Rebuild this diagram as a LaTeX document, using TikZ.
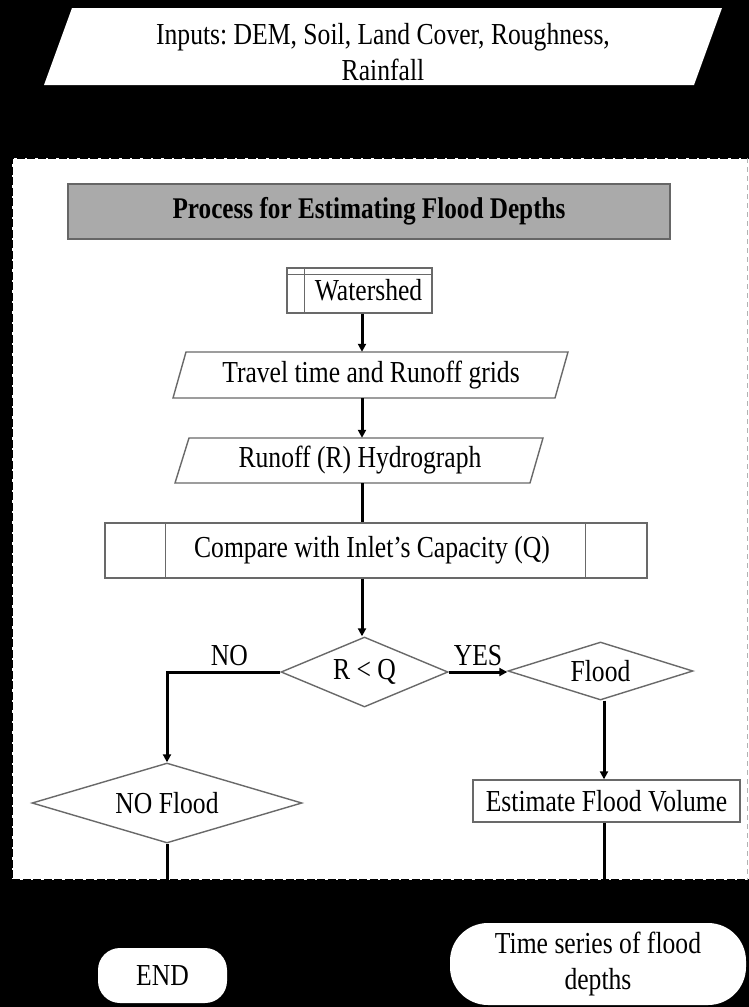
\documentclass[tikz,border=0pt]{standalone}
\usepackage{fontspec}
\setmainfont{Liberation Serif}[FakeStretch=0.84]
\usetikzlibrary{shapes.geometric,arrows.meta,calc}
\definecolor{edgegray}{RGB}{105,105,105}
\definecolor{titlegray}{RGB}{170,170,170}
\frenchspacing
\begin{document}
\begin{tikzpicture}[x=1pt,y=-1pt,
  shp/.style={draw=edgegray, line width=1.4pt},
  arr/.style={line width=3pt, -{Triangle[length=8pt,width=8pt]}},
  ln/.style={line width=3pt},
  txtfont/.style={font=\fontsize{30.5}{36}\selectfont},
  txt/.style={txtfont, inner sep=0pt, align=center},
  dia/.style={diamond, shp, fill=white, inner sep=0pt, aspect=3, txtfont},
  boxn/.style={shp, fill=white, inner sep=0pt, txtfont},
  term/.style={fill=white, inner sep=0pt, txtfont, align=center}
]
\useasboundingbox (0,0) rectangle (749,1007);
\fill[black] (0,0) rectangle (749,1007);

% input parallelogram
\fill[white] (72,8) -- (722,8) -- (694,85) -- (44,85) -- cycle;
\node[txt] (inp) at (383,52) {Inputs: DEM, Soil, Land Cover, Roughness,\\Rainfall};

% white process region
\fill[white] (12,158) rectangle (749,880);
\draw[black, line width=2.6pt, dash pattern=on 8pt off 2.5pt] (749,158) -- (12,158) -- (12,880) -- (749,880);
\draw[black!30, line width=0.8pt, dash pattern=on 5pt off 4pt] (747.5,158) -- (747.5,880);

% title
\node[draw=black!60, fill=titlegray, line width=1.3pt, minimum width=602pt, minimum height=55pt,
      inner sep=0pt, font=\fontsize{30}{36}\selectfont\bfseries] (title) at (369,211.5)
      {Process for Estimating Flood Depths};

% column coordinates
\coordinate (col) at (362,0);
\coordinate (col2) at (604,0);

% watershed (internal storage)
\node[boxn, minimum width=145pt, minimum height=45pt] (ws) at (359.5,290.5)
      {\hspace*{18pt}\raisebox{-3pt}{Watershed}};
\draw[shp] ($(ws.north west)+(0,7)$) -- ($(ws.north east)+(0,7)$);
\draw[shp] ($(ws.north west)+(18,0)$) -- ($(ws.south west)+(18,0)$);

% travel time parallelogram
\draw[shp, fill=white] (186,352) -- (568,352) -- (555,398) -- (173,398) -- cycle;
\node[txt, minimum height=46pt] (trav) at (371,375) {Travel time and Runoff grids};

% runoff parallelogram
\draw[shp, fill=white] (189,438) -- (543,438) -- (530,483) -- (175,483) -- cycle;
\node[txt, minimum height=45pt] (run) at (360,460.5) {Runoff (R) Hydrograph};

% compare (predefined process)
\node[boxn, minimum width=542pt, minimum height=55pt] (cmp) at (376,550.5)
      {\hspace*{-8pt}Compare with Inlet's Capacity (Q)};
\draw[shp] ($(cmp.north west)+(61,0)$) -- ($(cmp.south west)+(61,0)$);
\draw[shp] ($(cmp.north east)+(-62,0)$) -- ($(cmp.south east)+(-62,0)$);

% decisions
\node[dia, minimum width=167pt, minimum height=70pt] (rq) at (364.5,672) {R < Q};
\node[dia, minimum width=185pt, minimum height=58pt] (fl) at (600.5,671) {\raisebox{-4pt}{Flood}};
\node[dia, minimum width=270pt, minimum height=80pt] (nof) at (167,803) {NO Flood};

% estimate
\node[boxn, minimum width=267pt, minimum height=42pt] (est) at (606.5,801) {Estimate Flood Volume};

% terminals
\node[term, minimum width=129pt, minimum height=55pt, rounded corners=22pt] (endn) at (162.5,975.5) {END};
\node[term, minimum width=296pt, minimum height=82pt, rounded corners=38pt] (ts) at (598,964)
      {Time series of flood\\depths};

% connectors
\draw[arr] (ws.south -| col) -- (trav.north -| col);
\draw[arr] (trav.south -| col) -- (run.north -| col);
\draw[ln] (run.south -| col) -- (cmp.north -| col);
\draw[arr] (cmp.south -| col) -- (rq.north -| col);
\draw[arr] (rq.east) -- node[txt, above=5pt] (yes) {YES} (rq.east -| fl.west);
\draw[arr] (rq.west) -- node[txt, above=5pt, pos=0.45] (no) {NO} (rq.west -| nof.north) -- (nof.north);
\draw[arr] (fl.south -| col2) -- (est.north -| col2);
\draw[ln] (est.south -| col2) -- (ts.north -| col2);
\draw[ln] (nof.south) -- (nof.south |- endn.north);
\end{tikzpicture}
\end{document}
